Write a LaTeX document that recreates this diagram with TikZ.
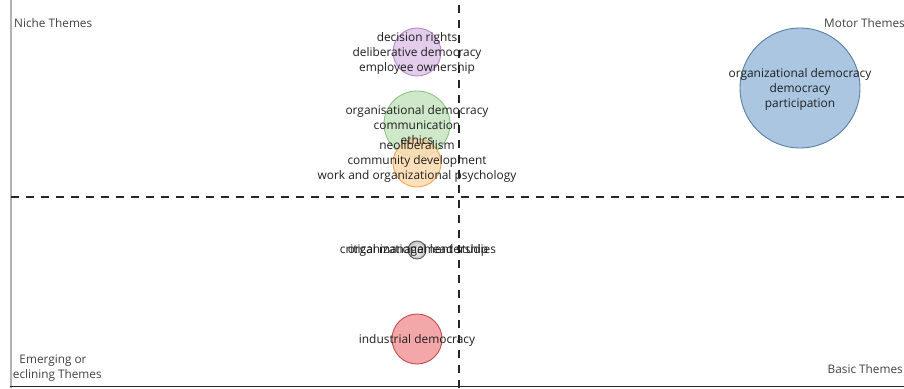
\documentclass[tikz,border=0pt]{standalone}
\usepackage{fontspec}
\setmainfont{Open Sans}
\begin{document}
\begin{tikzpicture}[x=1pt,y=-1pt,
  lbl/.style={font=\fontsize{11.9}{15.4}\selectfont, text=black!88, align=center, inner sep=0pt},
  corner/.style={font=\fontsize{11.8}{15}\selectfont, text=black!75, inner sep=0pt},
  theme/.style={circle, inner sep=0pt, line width=0.9pt, minimum size=#1}]
\useasboundingbox (0,0) rectangle (904,388);
\definecolor{purpfill}{HTML}{E3CCEC}\definecolor{purpline}{HTML}{B98BCB}
\definecolor{greenfill}{HTML}{C9E6C3}\definecolor{greenline}{HTML}{8DC585}
\definecolor{orfill}{HTML}{FDDAAE}\definecolor{orline}{HTML}{F2A755}
\definecolor{redfill}{HTML}{F3A7A8}\definecolor{redline}{HTML}{C44B4E}
\definecolor{bluefill}{HTML}{AAC6E0}\definecolor{blueline}{HTML}{5B7FA6}
\definecolor{grayfill}{HTML}{E2E2DF}\definecolor{grayline}{HTML}{5A5A58}

% axes
\coordinate (ytop) at (11,0);
\coordinate (ybot) at (11,388);
\coordinate (xl) at (10,386.5);
\coordinate (xr) at (904,386.5);
\draw[line width=2pt, black!30] (ytop) -- (ybot);
\draw[line width=1.5pt, black!85] (xl) -- (xr);

% quadrant separators
\coordinate (hl) at (11,197);
\coordinate (hr) at (904,197);
\coordinate (vt) at (459,5);
\coordinate (vb) at (459,388);
\draw[line width=1.5pt, black!85, dash pattern=on 8pt off 7pt] (hl) -- (hr);
\draw[line width=1.5pt, black!85, dash pattern=on 8pt off 7pt] (vt) -- (vb);

% theme bubbles
\node[theme=48pt, fill=purpfill, draw=purpline] (purple) at (417,52) {};
\node[theme=66pt, fill=greenfill, draw=greenline, fill opacity=0.9] (green) at (417,124) {};
\node[theme=48pt, fill=orfill, draw=orline, fill opacity=0.85] (orange) at (417,163) {};
\node[theme=18pt, inner color=white, outer color=grayfill!70!gray, draw=grayline] (gray) at (417,250) {};
\node[theme=50pt, fill=redfill, draw=redline] (red) at (417,339) {};
\node[theme=120pt, fill=bluefill, draw=blueline] (blue) at (800,88) {};

% cluster labels
\node[lbl] (purplelbl) at (417,53.5) {decision rights\\deliberative democracy\\employee ownership};
\node[lbl] (greenlbl) at (417,125) {organisational democracy\\communication\\ethics};
\node[lbl] (orangelbl) at (417,161.5) {neoliberalism\\community development\\work and organizational psychology};
\node[lbl] (graylbl1) at (418,250.5) {critical management studies};
\node[lbl] (graylbl2) at (418,250.5) {organizational leadership};
\node[lbl] (redlbl) at (417,340) {industrial democracy};
\node[lbl] (bluelbl) at (800,89.5) {organizational democracy\\democracy\\participation};

% quadrant names
\node[corner, anchor=west] (niche) at (14,23) {Niche Themes};
\node[corner, anchor=east] (motor) at (905,23) {Motor Themes};
\node[corner, anchor=east] (basic) at (903,369) {Basic Themes};
\begin{scope}
\clip (12,340) rectangle (200,386);
\node[corner, align=center] (emerging) at (53,368) {Emerging or\\Declining Themes};
\end{scope}
\end{tikzpicture}
\end{document}
